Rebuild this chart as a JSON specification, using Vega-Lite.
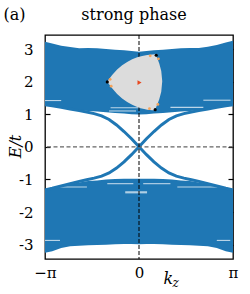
{
  "$schema": "https://vega.github.io/schema/vega-lite/v6.json",
  "width": 188,
  "height": 224,
  "autosize": {"type": "none"},
  "padding": {"left": 45, "top": 35, "right": 17, "bottom": 35},
  "config": {
    "font": "DejaVu Serif",
    "view": {"stroke": "#000", "strokeWidth": 1.3},
    "axis": {"grid": false, "domain": false, "titleFontWeight": "normal", "labelFont": "DejaVu Serif", "titleFont": "DejaVu Serif", "labelFontSize": 15, "titleFontSize": 16, "labelColor": "#000", "titleColor": "#000", "tickColor": "#000", "tickWidth": 1.2}
  },
  "datasets": {
    "bandU": [
      {"k": -3.1416, "lo": 1.29, "hi": 3.22}, {"k": -2.9, "lo": 1.26, "hi": 3.17}, {"k": -2.6, "lo": 1.21, "hi": 3.10},
      {"k": -2.3, "lo": 1.16, "hi": 3.06}, {"k": -2.0, "lo": 1.12, "hi": 3.02}, {"k": -1.7, "lo": 1.10, "hi": 3.03},
      {"k": -1.4, "lo": 1.08, "hi": 3.02}, {"k": -1.1, "lo": 1.06, "hi": 3.00}, {"k": -0.8, "lo": 1.04, "hi": 2.98},
      {"k": -0.5, "lo": 1.02, "hi": 2.96}, {"k": -0.25, "lo": 1.00, "hi": 2.94}, {"k": 0, "lo": 0.99, "hi": 2.92},
      {"k": 0.25, "lo": 1.00, "hi": 2.94}, {"k": 0.5, "lo": 1.02, "hi": 2.96}, {"k": 0.8, "lo": 1.04, "hi": 2.98},
      {"k": 1.1, "lo": 1.06, "hi": 3.00}, {"k": 1.4, "lo": 1.08, "hi": 3.02}, {"k": 1.7, "lo": 1.10, "hi": 3.03},
      {"k": 2.0, "lo": 1.12, "hi": 3.03}, {"k": 2.3, "lo": 1.16, "hi": 3.07}, {"k": 2.6, "lo": 1.21, "hi": 3.12},
      {"k": 2.9, "lo": 1.26, "hi": 3.20}, {"k": 3.1416, "lo": 1.29, "hi": 3.25}
    ],
    "bandL": [
      {"k": -3.1416, "lo": -3.25, "hi": -1.32}, {"k": -2.9, "lo": -3.20, "hi": -1.27}, {"k": -2.6, "lo": -3.10, "hi": -1.20},
      {"k": -2.3, "lo": -3.05, "hi": -1.14}, {"k": -2.0, "lo": -3.03, "hi": -1.09}, {"k": -1.7, "lo": -3.02, "hi": -1.05},
      {"k": -1.4, "lo": -3.01, "hi": -1.03}, {"k": -1.1, "lo": -3.00, "hi": -1.00}, {"k": -0.8, "lo": -2.99, "hi": -0.99},
      {"k": -0.5, "lo": -2.98, "hi": -0.98}, {"k": -0.25, "lo": -2.98, "hi": -0.98}, {"k": 0, "lo": -2.99, "hi": -0.98},
      {"k": 0.25, "lo": -2.98, "hi": -0.98}, {"k": 0.5, "lo": -2.98, "hi": -0.98}, {"k": 0.8, "lo": -2.99, "hi": -0.99},
      {"k": 1.1, "lo": -3.00, "hi": -1.00}, {"k": 1.4, "lo": -3.01, "hi": -1.03}, {"k": 1.7, "lo": -3.02, "hi": -1.05},
      {"k": 2.0, "lo": -3.03, "hi": -1.09}, {"k": 2.3, "lo": -3.05, "hi": -1.14}, {"k": 2.6, "lo": -3.10, "hi": -1.20},
      {"k": 2.9, "lo": -3.20, "hi": -1.27}, {"k": 3.1416, "lo": -3.25, "hi": -1.32}
    ],
    "edge": [
      {"b": "ul", "k": 0, "E": 0}, {"b": "ul", "k": -0.25, "E": 0.25}, {"b": "ul", "k": -0.5, "E": 0.47}, {"b": "ul", "k": -0.75, "E": 0.67},
      {"b": "ul", "k": -1.0, "E": 0.84}, {"b": "ul", "k": -1.25, "E": 0.95}, {"b": "ul", "k": -1.5, "E": 1.02}, {"b": "ul", "k": -1.75, "E": 1.07},
      {"b": "ul", "k": -2.0, "E": 1.11}, {"b": "ul", "k": -2.3, "E": 1.16}, {"b": "ul", "k": -2.6, "E": 1.21}, {"b": "ul", "k": -2.9, "E": 1.26},
      {"b": "ul", "k": -3.1416, "E": 1.29},
      {"b": "ur", "k": 0, "E": 0}, {"b": "ur", "k": 0.25, "E": 0.25}, {"b": "ur", "k": 0.5, "E": 0.47}, {"b": "ur", "k": 0.75, "E": 0.67},
      {"b": "ur", "k": 1.0, "E": 0.84}, {"b": "ur", "k": 1.25, "E": 0.95}, {"b": "ur", "k": 1.5, "E": 1.02}, {"b": "ur", "k": 1.75, "E": 1.07},
      {"b": "ur", "k": 2.0, "E": 1.11}, {"b": "ur", "k": 2.3, "E": 1.16}, {"b": "ur", "k": 2.6, "E": 1.21}, {"b": "ur", "k": 2.9, "E": 1.26},
      {"b": "ur", "k": 3.1416, "E": 1.29},
      {"b": "ll", "k": 0, "E": 0}, {"b": "ll", "k": -0.25, "E": -0.24}, {"b": "ll", "k": -0.5, "E": -0.46}, {"b": "ll", "k": -0.75, "E": -0.65},
      {"b": "ll", "k": -1.0, "E": -0.80}, {"b": "ll", "k": -1.25, "E": -0.90}, {"b": "ll", "k": -1.5, "E": -0.96}, {"b": "ll", "k": -1.75, "E": -1.01},
      {"b": "ll", "k": -2.0, "E": -1.06}, {"b": "ll", "k": -2.3, "E": -1.13}, {"b": "ll", "k": -2.6, "E": -1.20}, {"b": "ll", "k": -2.9, "E": -1.27},
      {"b": "ll", "k": -3.1416, "E": -1.32},
      {"b": "lr", "k": 0, "E": 0}, {"b": "lr", "k": 0.25, "E": -0.24}, {"b": "lr", "k": 0.5, "E": -0.46}, {"b": "lr", "k": 0.75, "E": -0.65},
      {"b": "lr", "k": 1.0, "E": -0.80}, {"b": "lr", "k": 1.25, "E": -0.90}, {"b": "lr", "k": 1.5, "E": -0.96}, {"b": "lr", "k": 1.75, "E": -1.01},
      {"b": "lr", "k": 2.0, "E": -1.06}, {"b": "lr", "k": 2.3, "E": -1.13}, {"b": "lr", "k": 2.6, "E": -1.20}, {"b": "lr", "k": 2.9, "E": -1.27},
      {"b": "lr", "k": 3.1416, "E": -1.32}
    ],
    "streaks": [
      {"k1": -3.14, "k2": -2.6, "E": 1.42}, {"k1": 2.15, "k2": 3.06, "E": 1.43},
      {"k1": -0.95, "k2": 0.4, "E": 1.2}, {"k1": 1.05, "k2": 2.15, "E": 1.21},
      {"k1": -1.0, "k2": -0.1, "E": 1.1},
      {"k1": -1.06, "k2": -0.19, "E": -1.13}, {"k1": 0.14, "k2": 1.05, "E": -1.13},
      {"k1": -2.97, "k2": -1.74, "E": -1.23}, {"k1": 1.28, "k2": 2.62, "E": -1.23},
      {"k1": -0.46, "k2": 0.27, "E": -1.38}, {"k1": -0.46, "k2": 0.27, "E": -1.41},
      {"k1": -3.14, "k2": -2.64, "E": -2.87}, {"k1": 2.6, "k2": 3.05, "E": -2.87}
    ],
    "inset": [
      {"k": -1.066, "lo": 1.994, "hi": 1.994}, {"k": -0.898, "lo": 1.794, "hi": 2.202}, {"k": -0.731, "lo": 1.617, "hi": 2.371},
      {"k": -0.563, "lo": 1.482, "hi": 2.500}, {"k": -0.395, "lo": 1.374, "hi": 2.601}, {"k": -0.228, "lo": 1.288, "hi": 2.684},
      {"k": -0.060, "lo": 1.224, "hi": 2.745}, {"k": 0.107, "lo": 1.175, "hi": 2.788}, {"k": 0.275, "lo": 1.141, "hi": 2.819},
      {"k": 0.442, "lo": 1.124, "hi": 2.834}, {"k": 0.54, "lo": 1.12, "hi": 2.84}, {"k": 0.576, "lo": 1.22, "hi": 2.80},
      {"k": 0.627, "lo": 1.34, "hi": 2.68}, {"k": 0.677, "lo": 1.46, "hi": 2.558}, {"k": 0.744, "lo": 1.69, "hi": 2.328},
      {"k": 0.777, "lo": 2.009, "hi": 2.009}
    ],
    "pts": [
      {"kind": "vertex", "k": -1.06, "E": 1.99}, {"kind": "vertex", "k": 0.576, "E": 2.81}, {"kind": "vertex", "k": 0.54, "E": 1.14},
      {"kind": "orange", "k": -0.965, "E": 2.07}, {"kind": "orange", "k": -0.93, "E": 1.86},
      {"kind": "orange", "k": 0.375, "E": 2.79}, {"kind": "orange", "k": 0.65, "E": 2.7},
      {"kind": "orange", "k": 0.35, "E": 1.17}, {"kind": "orange", "k": 0.63, "E": 1.3},
      {"kind": "center", "k": 0.017, "E": 1.97}
    ],
    "zero": [{"v": 0}]
  },
  "layer": [
    {
      "data": {"name": "bandU"},
      "mark": {"type": "area", "color": "#1f77b4"},
      "encoding": {
        "x": {"field": "k", "type": "quantitative", "scale": {"domain": [-3.14159, 3.14159], "nice": false, "zero": false},
          "axis": {"orient": "bottom", "values": [-3.14159, 0, 3.14159], "ticks": false, "tickSize": 0, "labelPadding": 6, "labelFlush": false,
            "labelExpr": "datum.value < -1 ? '−π' : (datum.value > 1 ? 'π' : '0')",
            "title": "k", "titleFontStyle": "italic", "titleX": 118, "titleY": 24, "titleAlign": "left", "titleBaseline": "alphabetic"}},
        "y": {"field": "lo", "type": "quantitative", "scale": {"domain": [-3.44, 3.43], "nice": false, "zero": false},
          "axis": {"orient": "left", "values": [-3, -2, -1, 0, 1, 2, 3], "ticks": false, "tickSize": 0, "labelPadding": 12,
            "labelExpr": "datum.value < 0 ? '-' + abs(datum.value) : '' + datum.value",
            "title": "E/t", "titleFontStyle": "italic", "titleX": -30, "titleY": 111, "titleAngle": 270, "titleAlign": "center", "titleBaseline": "middle"}},
        "y2": {"field": "hi"}
      }
    },
    {
      "data": {"name": "bandL"},
      "mark": {"type": "area", "color": "#1f77b4"},
      "encoding": {
        "x": {"field": "k", "type": "quantitative", "scale": {"domain": [-3.14159, 3.14159], "nice": false, "zero": false},
          "axis": {"orient": "top", "labels": false, "ticks": false, "tickSize": 0,
            "title": "strong phase", "titleX": 88.5, "titleY": -16, "titleAlign": "center", "titleBaseline": "alphabetic"}},
        "y": {"field": "lo", "type": "quantitative", "scale": {"domain": [-3.44, 3.43], "nice": false, "zero": false},
          "axis": {"orient": "left", "values": [-3, -2, -1, 0, 1, 2, 3], "labels": false, "ticks": true, "tickSize": -5, "title": null}},
        "y2": {"field": "hi"}
      }
    },
    {
      "data": {"name": "streaks"},
      "mark": {"type": "rule", "color": "#ffffff", "strokeWidth": 1.1, "opacity": 0.7},
      "encoding": {
        "x": {"field": "k1", "type": "quantitative", "scale": {"domain": [-3.14159, 3.14159], "nice": false, "zero": false},
          "axis": {"orient": "bottom", "labels": false, "ticks": false, "tickSize": 0,
            "title": "z", "titleFontStyle": "italic", "titleFontSize": 12, "titleX": 127, "titleY": 27, "titleAlign": "left", "titleBaseline": "alphabetic"}},
        "x2": {"field": "k2"},
        "y": {"field": "E", "type": "quantitative", "scale": {"domain": [-3.44, 3.43], "nice": false, "zero": false},
          "axis": {"orient": "right", "values": [-3, -2, -1, 0, 1, 2, 3], "labels": false, "ticks": true, "tickSize": -5, "title": null}}
      }
    },
    {
      "data": {"name": "edge"},
      "mark": {"type": "line", "color": "#1f77b4", "strokeWidth": 3},
      "encoding": {
        "x": {"field": "k", "type": "quantitative", "scale": {"domain": [-3.14159, 3.14159], "nice": false, "zero": false},
          "axis": {"orient": "top", "labels": false, "ticks": false, "tickSize": 0,
            "title": "(a)", "titleX": -31, "titleY": -16, "titleAlign": "center", "titleBaseline": "alphabetic"}},
        "y": {"field": "E", "type": "quantitative", "scale": {"domain": [-3.44, 3.43], "nice": false, "zero": false}, "axis": null},
        "detail": {"field": "b", "type": "nominal"}
      }
    },
    {
      "data": {"name": "zero"},
      "mark": {"type": "rule", "color": "#666666", "strokeWidth": 1.4, "strokeDash": [4, 2.5]},
      "encoding": {"y": {"field": "v", "type": "quantitative", "axis": null}}
    },
    {
      "data": {"name": "zero"},
      "mark": {"type": "rule", "color": "#000000", "strokeWidth": 1, "strokeDash": [4, 2]},
      "encoding": {"x": {"field": "v", "type": "quantitative", "axis": null}}
    },
    {
      "data": {"name": "inset"},
      "mark": {"type": "area", "color": "#dcdcdc"},
      "encoding": {
        "x": {"field": "k", "type": "quantitative", "axis": null},
        "y": {"field": "lo", "type": "quantitative", "axis": null},
        "y2": {"field": "hi"}
      }
    },
    {
      "data": {"name": "pts"},
      "transform": [{"filter": "datum.kind === 'orange'"}],
      "mark": {"type": "circle", "color": "#f5a35a", "size": 8, "opacity": 1},
      "encoding": {
        "x": {"field": "k", "type": "quantitative", "axis": null},
        "y": {"field": "E", "type": "quantitative", "axis": null}
      }
    },
    {
      "data": {"name": "pts"},
      "transform": [{"filter": "datum.kind === 'vertex'"}],
      "mark": {"type": "circle", "color": "#000000", "size": 10, "opacity": 1},
      "encoding": {
        "x": {"field": "k", "type": "quantitative", "axis": null},
        "y": {"field": "E", "type": "quantitative", "axis": null}
      }
    },
    {
      "data": {"name": "pts"},
      "transform": [{"filter": "datum.kind === 'center'"}],
      "mark": {"type": "point", "shape": "triangle-right", "filled": true, "color": "#e8481f", "size": 22, "opacity": 1},
      "encoding": {
        "x": {"field": "k", "type": "quantitative", "axis": null},
        "y": {"field": "E", "type": "quantitative", "axis": null}
      }
    }
  ],
  "resolve": {"axis": {"x": "independent", "y": "independent"}}
}
